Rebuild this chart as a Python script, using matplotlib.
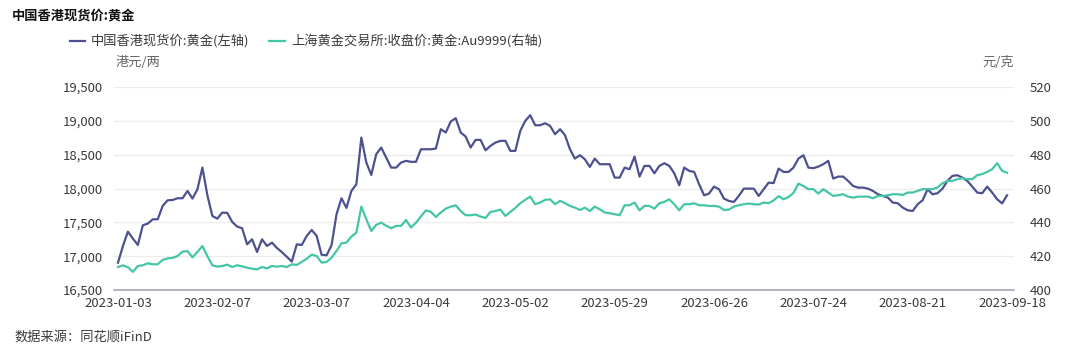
import numpy as np
import matplotlib
matplotlib.use("Agg")
import matplotlib.pyplot as plt

plt.rcParams['font.family'] = ['Noto Sans CJK SC', 'DejaVu Sans']

# 中国香港现货价:黄金 (港元/两), one value per trading day
hk_gold = [
    16904, 17150, 17363, 17260, 17166, 17456, 17481, 17545, 17545, 17742,
    17826, 17830, 17856, 17856, 17964, 17851, 17989, 18309, 17900, 17594,
    17555, 17644, 17640, 17506, 17437, 17412, 17175, 17249, 17062, 17249,
    17151, 17200, 17121, 17060, 16990, 16920, 17175, 17165, 17299, 17387,
    17300, 17020, 17013, 17161, 17619, 17856, 17713, 17964, 18063, 18753,
    18384, 18201, 18507, 18605, 18457, 18309, 18309, 18384, 18408, 18394,
    18394, 18580, 18580, 18580, 18590, 18876, 18827, 18990, 19039, 18827,
    18768, 18605, 18718, 18718, 18565, 18630, 18679, 18704, 18704, 18556,
    18556, 18852, 18999, 19083, 18935, 18935, 18964, 18925, 18802, 18876,
    18787, 18580, 18442, 18492, 18432, 18319, 18442, 18359, 18359, 18359,
    18161, 18161, 18309, 18285, 18472, 18176, 18334, 18334, 18225, 18334,
    18373, 18334, 18225, 18048, 18309, 18260, 18245, 18063, 17900, 17925,
    18028, 17989, 17851, 17816, 17801, 17890, 17998, 17998, 17998, 17890,
    17989, 18087, 18080, 18294, 18245, 18245, 18309, 18442, 18492, 18309,
    18300, 18324, 18359, 18408, 18147, 18176, 18176, 18112, 18038, 18013,
    18013, 17998, 17964, 17915, 17890, 17866, 17792, 17782, 17718, 17678,
    17668, 17767, 17826, 17989, 17915, 17930, 17998, 18112, 18186, 18196,
    18161, 18112, 18028, 17940, 17930, 18028, 17940, 17841, 17780, 17900,
]

# 上海黄金交易所:收盘价:黄金:Au9999 (元/克)
sh_gold = [
    413.6, 414.6, 413.5, 410.7, 414.2, 414.6, 415.8, 415.2, 415.2, 417.8,
    418.7, 419.0, 420.1, 422.7, 423.0, 419.3, 422.5, 426.0, 420.0, 414.6,
    413.8, 414.2, 415.0, 413.6, 414.6, 414.0, 413.2, 412.6, 412.2, 413.6,
    412.8, 414.2, 413.8, 414.2, 413.6, 415.2, 414.8, 416.6, 418.5, 420.9,
    420.1, 416.2, 416.6, 419.1, 423.1, 427.6, 428.0, 431.6, 433.9, 449.3,
    441.8, 434.9, 438.5, 439.8, 438.0, 436.5, 437.9, 437.9, 441.4, 436.9,
    439.8, 443.4, 447.1, 446.2, 443.2, 445.8, 448.1, 449.3, 450.1, 446.7,
    444.2, 444.2, 444.6, 443.4, 442.6, 446.2, 446.7, 447.5, 443.8, 446.2,
    448.5, 451.3, 453.3, 455.2, 450.7, 451.7, 453.3, 453.6, 450.7, 452.7,
    451.3, 449.7, 448.7, 447.3, 448.7, 446.7, 449.3, 447.7, 445.8, 445.4,
    444.8, 444.2, 450.1, 450.1, 451.7, 447.1, 449.7, 449.7, 448.1, 451.3,
    452.1, 453.6, 450.7, 447.1, 450.7, 450.7, 451.3, 450.1, 450.1, 449.7,
    449.7, 449.3, 447.3, 447.5, 449.3, 450.1, 450.7, 451.1, 450.7, 450.5,
    451.7, 451.3, 452.9, 455.5, 453.6, 455.0, 457.4, 462.9, 461.5, 459.6,
    459.6, 457.0, 459.6, 457.6, 455.6, 456.0, 456.6, 455.2, 454.6, 455.2,
    455.2, 455.2, 454.2, 455.6, 455.6, 456.0, 456.6, 456.6, 456.2, 457.6,
    457.6, 458.6, 459.6, 459.6, 459.6, 460.6, 463.1, 464.5, 464.5, 465.5,
    466.1, 465.5, 465.5, 467.9, 468.5, 469.8, 471.4, 475.0, 470.4, 469.3,
]

x_labels = ["2023-01-03", "2023-02-07", "2023-03-07", "2023-04-04", "2023-05-02",
            "2023-05-29", "2023-06-26", "2023-07-24", "2023-08-21", "2023-09-18"]
left_ticks = [16500, 17000, 17500, 18000, 18500, 19000, 19500]
right_ticks = [400, 420, 440, 460, 480, 500, 520]

HK_COLOR = "#4d5190"
SH_COLOR = "#44c6a6"
TEXT = "#3a3a3a"

W, H = 1080, 364
fig = plt.figure(figsize=(W / 100, H / 100), dpi=100)
ax = fig.add_axes([114 / W, 1 - 290 / H, 900 / W, 203 / H])
ax2 = ax.twinx()

ax.plot(np.arange(len(hk_gold)), hk_gold, color=HK_COLOR, lw=1.6, zorder=3)
ax2.plot(np.arange(len(sh_gold)), sh_gold, color=SH_COLOR, lw=1.6, zorder=3)

ax.set_xlim(-0.8, 180.4)
ax.set_ylim(16500, 19500)
ax2.set_ylim(400, 520)
ax.set_yticks(left_ticks)
ax.set_yticklabels([f"{v:,}" for v in left_ticks])
ax2.set_yticks(right_ticks)
ax.set_xticks(np.arange(0, 181, 20))
ax.set_xticklabels(x_labels)

# light grid lines above the base line
for v in left_ticks[1:]:
    ax.axhline(v, color="#ececec", lw=0.9, zorder=0)

for a in (ax, ax2):
    for s in a.spines.values():
        s.set_visible(False)
    a.tick_params(length=0, labelsize=9.5, labelcolor=TEXT)
ax.spines['bottom'].set_visible(True)
ax.spines['bottom'].set_color("#a3a6b8")
ax.spines['bottom'].set_linewidth(1.2)
ax.tick_params(axis='y', pad=8)
ax.tick_params(axis='x', pad=5)
ax2.tick_params(axis='y', pad=11)

def fx(px):
    return px / W

def fy(py):
    return 1 - py / H

fig.text(fx(12), fy(16), "中国香港现货价:黄金", fontsize=9.5, fontweight='bold',
         color="#111111", va='center', ha='left')

# legend
fig.add_artist(plt.Line2D([fx(70), fx(85)], [fy(41), fy(41)], color=HK_COLOR, lw=1.6))
fig.text(fx(91), fy(41), "中国香港现货价:黄金(左轴)", fontsize=9.5, color=TEXT,
         va='center', ha='left')
fig.add_artist(plt.Line2D([fx(269), fx(285)], [fy(41), fy(41)], color=SH_COLOR, lw=1.6))
fig.text(fx(291), fy(41), "上海黄金交易所:收盘价:黄金:Au9999(右轴)", fontsize=9.5,
         color=TEXT, va='center', ha='left')

fig.text(fx(138), fy(62), "港元/两", fontsize=9.5, color="#666666", va='center', ha='center')
fig.text(fx(998), fy(62), "元/克", fontsize=9.5, color="#666666", va='center', ha='center')

fig.text(fx(14), fy(337), "数据来源：同花顺iFinD", fontsize=9.5, color=TEXT,
         va='center', ha='left')

fig.savefig("out.png", dpi=100, facecolor="white")
